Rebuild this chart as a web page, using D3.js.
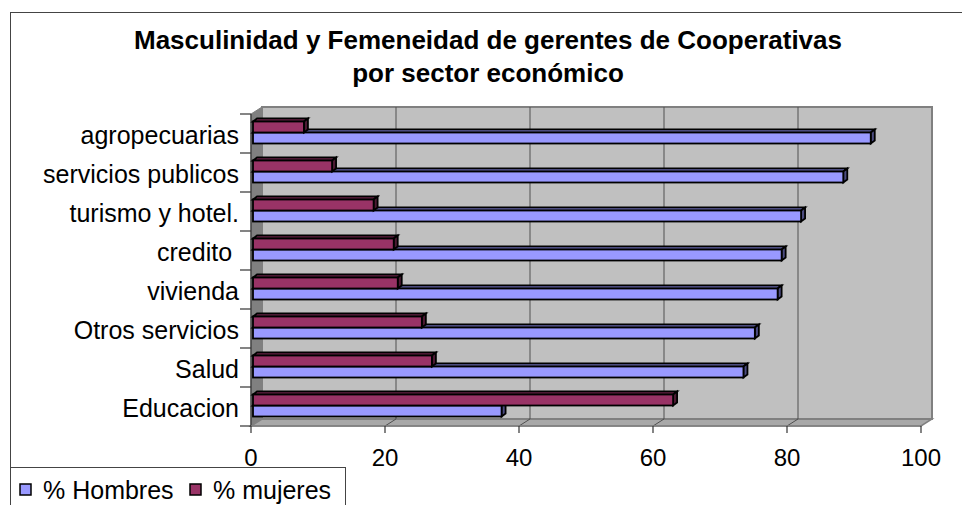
<!DOCTYPE html>
<html>
<head>
<meta charset="utf-8">
<script src="https://cdn.jsdelivr.net/npm/d3@7"></script>
<style>
  html, body { margin: 0; padding: 0; background: #fff; }
  #chart { width: 962px; height: 505px; overflow: hidden; }
  text { font-family: Arial, 'Liberation Sans', sans-serif; }
</style>
</head>
<body>
<div id="chart"></div>
<script>
(function () {
  'use strict';

  // Categories top -> bottom
  const CATEGORIES = ['agropecuarias', 'servicios publicos', 'turismo y hotel.', 'credito ',
    'vivienda', 'Otros servicios', 'Salud', 'Educacion'];
  const HOMBRES = [92.5, 88.4, 82.1, 79.2, 78.6, 75.2, 73.5, 37.4];
  const MUJERES = [7.9, 12.1, 18.3, 21.3, 21.9, 25.5, 27.0, 63.0];
  const X_TICKS = [0, 20, 40, 60, 80, 100];
  const SERIES = ['% Hombres', '% mujeres'];
  const COLORS = { front: ['#9999FF', '#993366'], side: ['#4C4C80', '#4C1A33'] };

  const W = 962, H = 505;
  const DX = 11, DY = -7;      // wall depth
  const BDX = 4, BDY = -3;     // bar depth

  const svg = d3.select('#chart').append('svg')
    .attr('width', W).attr('height', H)
    .attr('viewBox', `0 0 ${W} ${H}`);

  // outer chart border
  svg.append('rect')
    .attr('x', 10.5).attr('y', 12.5).attr('width', 980).attr('height', 520)
    .attr('fill', '#fff').attr('stroke', '#444').attr('stroke-width', 1);

  // title
  const title = svg.append('text')
    .attr('text-anchor', 'middle').attr('font-weight', 'bold')
    .attr('font-size', 26).attr('fill', '#000');
  title.append('tspan').attr('x', 488).attr('y', 49)
    .text('Masculinidad y Femeneidad de gerentes de Cooperativas');
  title.append('tspan').attr('x', 488).attr('y', 82)
    .text('por sector económico');

  const x = d3.scaleLinear().domain([0, 100]).range([251, 921]);
  const y = d3.scaleBand().domain(CATEGORIES).range([114, 426])
    .paddingInner(0.436).paddingOuter(0.218);
  const ySub = d3.scaleBand().domain([1, 0]).range([0, y.bandwidth()]);

  const top = y.range()[0], bottom = y.range()[1];
  const x0 = x(0), x1 = x(100);

  // side wall
  svg.append('polygon')
    .attr('points', [[x0, top], [x0 + DX, top + DY], [x0 + DX, bottom + DY], [x0, bottom]].join(' '))
    .attr('fill', '#808080').attr('stroke', '#808080');

  // floor
  svg.append('polygon')
    .attr('points', [[x0, bottom], [x0 + DX, bottom + DY], [x1 + DX, bottom + DY], [x1, bottom]].join(' '))
    .attr('fill', '#A8A8A8').attr('stroke', '#808080').attr('stroke-width', 1.5);

  // back wall
  svg.append('rect')
    .attr('x', x0 + DX).attr('y', top + DY)
    .attr('width', x1 - x0).attr('height', bottom - top)
    .attr('fill', '#C0C0C0').attr('stroke', '#808080').attr('stroke-width', 2);

  // gridlines (back wall + floor)
  X_TICKS.slice(1, -1).forEach(v => {
    svg.append('line')
      .attr('x1', x(v) + DX).attr('y1', top + DY).attr('x2', x(v) + DX).attr('y2', bottom + DY)
      .attr('stroke', '#505050').attr('stroke-width', 1);
    svg.append('line')
      .attr('x1', x(v)).attr('y1', bottom).attr('x2', x(v) + DX).attr('y2', bottom + DY)
      .attr('stroke', '#505050').attr('stroke-width', 1);
  });

  // left axis line + ticks
  svg.append('line')
    .attr('x1', x0).attr('y1', top).attr('x2', x0).attr('y2', bottom)
    .attr('stroke', '#333').attr('stroke-width', 1.2);
  d3.range(CATEGORIES.length + 1).forEach(i => {
    const ty = top + i * y.step();
    svg.append('line')
      .attr('x1', x0 - 11).attr('y1', ty).attr('x2', x0).attr('y2', ty)
      .attr('stroke', '#333').attr('stroke-width', 1.2);
  });

  // bottom axis
  svg.append('line')
    .attr('x1', x0).attr('y1', bottom).attr('x2', x1).attr('y2', bottom)
    .attr('stroke', '#808080').attr('stroke-width', 1.5);
  X_TICKS.forEach(v => {
    svg.append('line')
      .attr('x1', x(v)).attr('y1', bottom).attr('x2', x(v)).attr('y2', bottom + 7)
      .attr('stroke', '#333').attr('stroke-width', 1.2);
    svg.append('text')
      .attr('x', x(v)).attr('y', 466)
      .attr('text-anchor', 'middle').attr('font-size', 24).attr('fill', '#000')
      .text(v);
  });

  // category labels
  CATEGORIES.forEach(c => {
    svg.append('text')
      .attr('x', 239).attr('y', y(c) + y.bandwidth() / 2 + 10)
      .attr('text-anchor', 'end').attr('font-size', 25).attr('fill', '#000')
      .attr('xml:space', 'preserve').style('white-space', 'pre')
      .text(c);
  });

  // 3D bars
  function bar3d(bx0, bx1, by, bh, s) {
    const g = svg.append('g')
      .attr('stroke', '#000').attr('stroke-width', 1.8).attr('stroke-linejoin', 'miter');
    // top face
    g.append('polygon')
      .attr('points', [[bx0, by], [bx0 + BDX, by + BDY], [bx1 + BDX, by + BDY], [bx1, by]].join(' '))
      .attr('fill', COLORS.front[s]);
    // right face
    g.append('polygon')
      .attr('points', [[bx1, by], [bx1 + BDX, by + BDY], [bx1 + BDX, by + bh + BDY], [bx1, by + bh]].join(' '))
      .attr('fill', COLORS.side[s]);
    // front face
    g.append('rect')
      .attr('x', bx0).attr('y', by).attr('width', bx1 - bx0).attr('height', bh)
      .attr('fill', COLORS.front[s]);
  }

  CATEGORIES.forEach((c, i) => {
    const base = y(c) - 1;
    bar3d(x0 + 2, x(HOMBRES[i]), base + ySub(0), ySub.bandwidth(), 0);
    bar3d(x0 + 2, x(MUJERES[i]), base + ySub(1), ySub.bandwidth(), 1);
  });

  // legend
  svg.append('rect')
    .attr('x', 10.5).attr('y', 467.5).attr('width', 335).attr('height', 60)
    .attr('fill', '#fff').attr('stroke', '#444').attr('stroke-width', 1);
  const legendX = [20, 190];
  SERIES.forEach((name, s) => {
    svg.append('rect')
      .attr('x', legendX[s]).attr('y', 484).attr('width', 11).attr('height', 11)
      .attr('fill', COLORS.front[s]).attr('stroke', '#000').attr('stroke-width', 1.5);
    svg.append('text')
      .attr('x', legendX[s] + 23).attr('y', 499)
      .attr('font-size', 25).attr('fill', '#000')
      .text(name);
  });
})();
</script>
</body>
</html>
